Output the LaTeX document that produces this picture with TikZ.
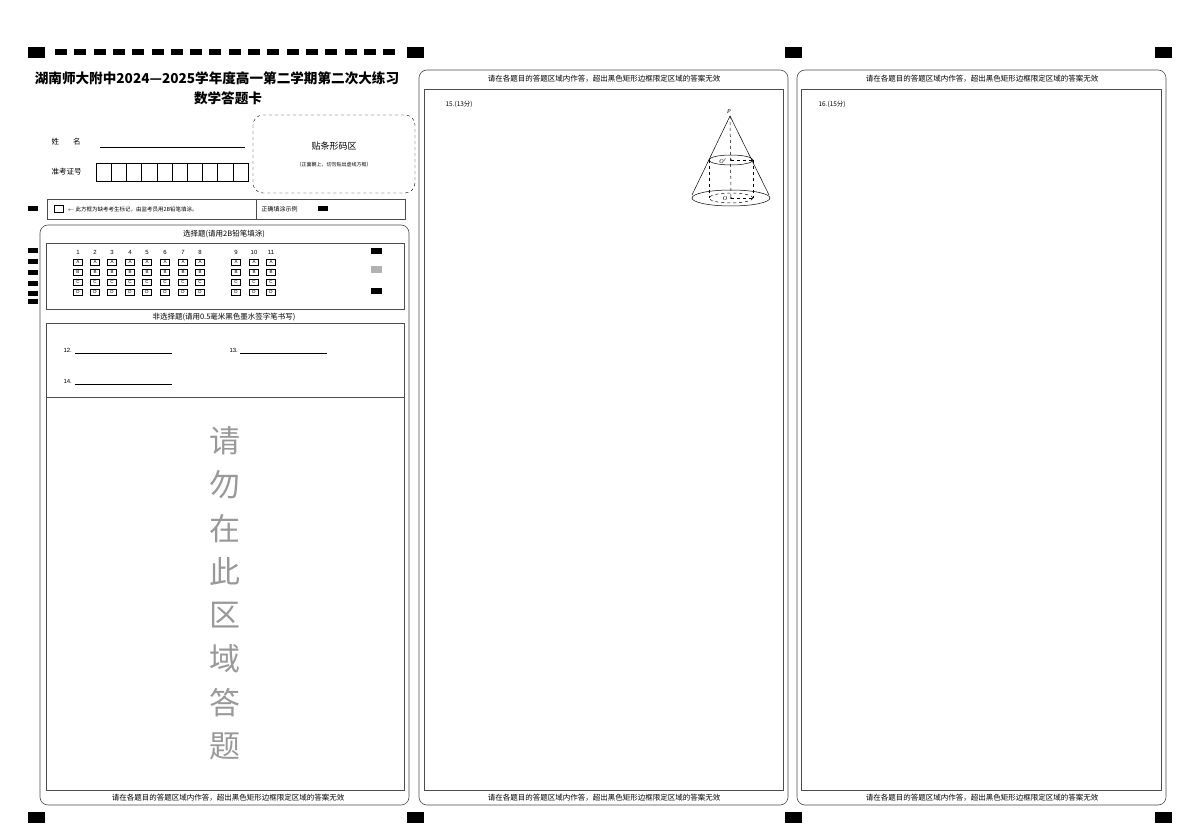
\documentclass[tikz,border=0pt]{standalone}
\usepackage{fontspec}
\setmainfont{Liberation Serif}
\newfontfamily\cjk{Noto Sans CJK SC}
\newfontfamily\arl{Liberation Sans}
\begin{document}
\begin{tikzpicture}[x=1pt,y=-1pt,
  blk/.style={fill=black,draw=none},
  panel/.style={draw=black!70,line width=0.6pt,rounded corners=8pt},
  frame/.style={draw=black!70,line width=0.6pt},
  bub/.style={draw,line width=0.4pt,minimum width=9pt,minimum height=6pt,inner sep=0pt,font=\arl\fontsize{4.5}{4.5}\selectfont},
  num/.style={font=\arl\fontsize{6}{6}\selectfont},
  hd/.style={font=\cjk\fontsize{7.5}{8}\selectfont},
  dsh/.style={dashed}]
\useasboundingbox (0,0) rectangle (1200,834);
\fill[white] (0,0) rectangle (1200,834);
% corner marks
\foreach \x in {28,407,785,1155}{
  \fill[blk] (\x,47) rectangle ++(17,11);
  \fill[blk] (\x,812) rectangle ++(17,11);}
\foreach \i in {0,...,17}{\fill[blk] (55+\i*19.3,49) rectangle ++(12,6);}
% title
\node[font=\cjk\bfseries\fontsize{13.6}{14}\selectfont] (t1) at (217,78) {湖南师大附中2024—2025学年度高一第二学期第二次大练习};
\node[font=\cjk\bfseries\fontsize{13.6}{14}\selectfont] (t2) at (228,98) {数学答题卡};
\node[hd,anchor=west] (xm) at (48,142) {姓\hspace{14pt}名};
\draw (100,147) -- (245,147);
\node[hd,anchor=west] (zk) at (48,172) {准考证号};
\foreach \i in {0,...,9}{\draw (96+\i*15.2,163) rectangle ++(15.2,18);}
\draw[dsh,rounded corners=10pt] (253,115) rectangle (415,193);
\node[font=\cjk\fontsize{9}{10}\selectfont] (bc) at (334,146) {贴条形码区};
\node[font=\cjk\fontsize{5}{6}\selectfont] (bc2) at (334,165) {（正面朝上，切勿贴出虚线方框）};
% notice row
\fill[blk] (28,206) rectangle ++(10,5);
\draw[frame] (47,199) rectangle (405,219);
\draw[frame] (256,199) -- (256,219);
\draw (54,205) rectangle ++(9,7);
\node[font=\cjk\fontsize{5.5}{6}\selectfont,anchor=west] (nt) at (64,209) {$\leftarrow$ 此方框为缺考考生标记，由监考员用2B铅笔填涂。};
\node[font=\cjk\fontsize{6}{6}\selectfont,anchor=west] (ok) at (258,209) {正确填涂示例};
\fill[blk] (318,206) rectangle ++(10,5);
% column 1
\draw[panel] (40,225) rectangle (409,805);
\node[hd] (h1) at (224,234) {选择题(请用2B铅笔填涂)};
\draw[frame] (46,243) rectangle (404,309);
\foreach \y in {248,259,270,281,291,299}{\fill[blk] (28,\y) rectangle ++(10,5);}
\foreach \n/\x in {1/78,2/95,3/112,4/130,5/147,6/165,7/183,8/200,9/236,10/254,11/271}{
  \node[num] at (\x,252) {\n};
  \foreach \l/\y in {A/262,B/272,C/282,D/292}{\node[bub] at (\x,\y) {\l};}}
\fill[blk] (371,248) rectangle ++(11,6);
\fill[black!30] (371,266) rectangle ++(11,7);
\fill[blk] (371,288) rectangle ++(11,6);
\node[hd] (h2) at (224,317) {非选择题(请用0.5毫米黑色墨水签字笔书写)};
\draw[frame] (46,323) rectangle (404,790);
\draw[frame] (46,397) -- (404,397);
\node[num,anchor=west] (q12) at (60,350) {12.};
\draw[line width=0.3pt] (75,353) -- (172,353);
\node[num,anchor=west] (q13) at (226,350) {13.};
\draw[line width=0.3pt] (240,353) -- (327,353);
\node[num,anchor=west] (q14) at (60,381) {14.};
\draw[line width=0.3pt] (75,384) -- (172,384);
\foreach \c [count=\i from 0] in {请,勿,在,此,区,域,答,题}{
  \node[font=\cjk\fontsize{31}{31}\selectfont,text=black!40] at (225,441+\i*43.6) {\c};}
\node[hd] (b1) at (228,798) {请在各题目的答题区域内作答，超出黑色矩形边框限定区域的答案无效};
% column 2
\draw[panel] (419,70) rectangle (788,805);
\node[hd] (h3) at (604,79) {请在各题目的答题区域内作答，超出黑色矩形边框限定区域的答案无效};
\draw[frame] (424,89) rectangle (783,790);
\node[hd] (b2) at (604,798) {请在各题目的答题区域内作答，超出黑色矩形边框限定区域的答案无效};
\node[font=\cjk\fontsize{6.5}{7}\selectfont,anchor=west] (q15) at (442,104) {15.(13分)};
% cone
\begin{scope}[line width=0.5pt]
\coordinate (P) at (730,116);
\draw (P) -- (692,195);
\draw (P) -- (769,195);
\draw (731,198) ellipse [x radius=39,y radius=8];
\draw (731,160) ellipse [x radius=22,y radius=5];
\draw[dsh] (709,160) -- (709,198);
\draw[dsh] (753,160) -- (753,198);
\draw[dsh] (731,198) ellipse [x radius=22,y radius=5];
\draw[dsh] (730,116) -- (731,198);
\draw[dsh] (731,160) -- (753,160);
\draw[dsh] (731,198) -- (753,198);
\fill (731,160) circle (0.9);
\fill (731,198) circle (0.9);
\node[font=\itshape\fontsize{6}{6}\selectfont] at (729,112) {P};
\node[font=\itshape\fontsize{6}{6}\selectfont] at (723,161) {O$'$};
\node[font=\itshape\fontsize{6}{6}\selectfont,fill=white,inner sep=0.5pt] at (725,199) {O};
\end{scope}
% column 3
\draw[panel] (797,70) rectangle (1166,805);
\node[hd] (h4) at (982,79) {请在各题目的答题区域内作答，超出黑色矩形边框限定区域的答案无效};
\draw[frame] (801,89) rectangle (1161,790);
\node[hd] (b3) at (982,798) {请在各题目的答题区域内作答，超出黑色矩形边框限定区域的答案无效};
\node[font=\cjk\fontsize{6.5}{7}\selectfont,anchor=west] (q16) at (815,104) {16.(15分)};
\end{tikzpicture}
\end{document}
